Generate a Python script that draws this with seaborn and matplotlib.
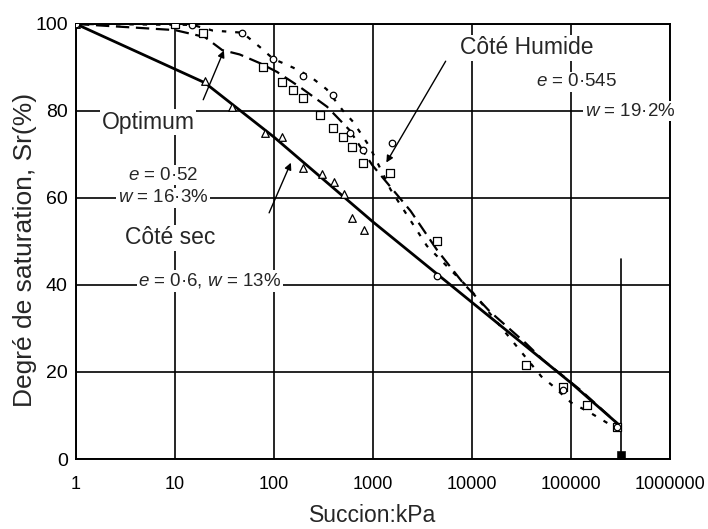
import numpy as np
import pandas as pd
import matplotlib
matplotlib.use("Agg")
import matplotlib.pyplot as plt
import seaborn as sns
from matplotlib.ticker import FixedLocator, FixedFormatter, LogLocator, MultipleLocator, NullFormatter

# ---------------- data ----------------
# Côté sec (solid line, triangles)
sec_line_x = [1, 20, 100, 1000, 10000, 100000, 300000]
sec_line_y = [100, 86.5, 74, 54.5, 36, 17.5, 8]
sec_pts_x = [1, 20, 38, 81, 120, 196, 305, 405, 510, 610, 810]
sec_pts_y = [100, 87, 81, 75, 74, 67, 65.5, 63.7, 61, 55.4, 52.6]

# Optimum (dashed line, squares)
opt_line_x = [1, 10, 20, 30, 45, 72, 107, 183, 343, 580, 980, 2400, 4450, 8100, 15000, 35000, 52000, 124000, 290000]
opt_line_y = [100, 98.6, 97, 94, 93, 91, 89, 85.5, 81, 75.6, 67.6, 57, 48, 40.5, 34, 26.6, 22.8, 15.9, 8.3]
opt_pts_x = [10, 19, 77, 120, 155, 195, 290, 395, 500, 610, 800, 1480, 4450, 35000, 83000, 145000, 290000]
opt_pts_y = [100, 98, 90, 86.7, 84.8, 83, 79, 76, 74, 71.7, 68, 65.7, 50, 21.6, 16.6, 12.4, 7.4]

# Côté humide (dotted line, circles)
hum_line_x = [1, 15, 24, 48, 72, 98, 155, 230, 340, 500, 630, 930, 1500, 3500, 10000, 50000, 64000, 100000, 160000, 270000]
hum_line_y = [100, 99.8, 98.5, 98, 94.7, 92, 90, 88, 85, 80, 77.5, 71.7, 62, 49, 38.5, 19, 17, 13, 10.5, 7.4]
hum_pts_x = [1, 15, 48, 98, 195, 395, 580, 800, 1570, 4400, 83000, 290000]
hum_pts_y = [100, 99.8, 98, 92, 88, 83.7, 75, 71, 72.6, 42, 15.8, 7.4]

# residual point at the end of the tests
end_x = [320000]
end_y = [1]
end_bar_y = [0, 46]

x_ticks = [1, 10, 100, 1000, 10000, 100000, 1000000]
x_tick_labels = ["1", "10", "100", "1000", "10000", "100000", "1000000"]
y_ticks = [0, 20, 40, 60, 80, 100]

# ---------------- style ----------------
sns.set_style("white")
plt.rcParams["font.family"] = ["Liberation Sans", "DejaVu Sans"]
plt.rcParams["mathtext.fontset"] = "custom"
plt.rcParams["mathtext.it"] = "Liberation Sans:italic"
plt.rcParams["mathtext.rm"] = "Liberation Sans"

fig = plt.figure(figsize=(7.08, 5.29), dpi=100)
ax = fig.add_axes([76 / 708, 1 - 459 / 529, 594 / 708, 435 / 529])

lines = pd.concat([
    pd.DataFrame({"x": sec_line_x, "y": sec_line_y, "s": "sec"}),
    pd.DataFrame({"x": opt_line_x, "y": opt_line_y, "s": "opt"}),
    pd.DataFrame({"x": hum_line_x, "y": hum_line_y, "s": "hum"}),
])
sns.lineplot(data=lines[lines.s == "sec"], x="x", y="y", color="black", lw=2.0, ax=ax,
             estimator=None, sort=False, zorder=3)
sns.lineplot(data=lines[lines.s == "opt"], x="x", y="y", color="black", lw=1.6, ax=ax,
             estimator=None, sort=False, zorder=3).lines[-1].set_dashes([6, 3])
sns.lineplot(data=lines[lines.s == "hum"], x="x", y="y", color="black", lw=1.6, ax=ax,
             estimator=None, sort=False, zorder=3).lines[-1].set_dashes([2, 4])

sns.scatterplot(x=sec_pts_x, y=sec_pts_y, marker="^", s=30, color="white",
                edgecolor="black", linewidth=0.9, ax=ax, zorder=4)
sns.scatterplot(x=opt_pts_x, y=opt_pts_y, marker="s", s=30, color="white",
                edgecolor="black", linewidth=0.9, ax=ax, zorder=4)
sns.scatterplot(x=hum_pts_x, y=hum_pts_y, marker="o", s=22, color="white",
                edgecolor="black", linewidth=0.9, ax=ax, zorder=4)
ax.plot([end_x[0], end_x[0]], end_bar_y, color="black", lw=1.2, zorder=2)
sns.scatterplot(x=end_x, y=end_y, marker="s", s=30, color="black",
                edgecolor="black", ax=ax, zorder=4)

ax.set_xscale("log")
ax.set_xlim(1, 1e6)
ax.set_ylim(0, 100)
ax.xaxis.set_major_locator(FixedLocator(x_ticks))
ax.xaxis.set_major_formatter(FixedFormatter(x_tick_labels))
ax.xaxis.set_minor_locator(LogLocator(base=10, subs=np.arange(2, 10)))
ax.xaxis.set_minor_formatter(NullFormatter())
ax.yaxis.set_major_locator(FixedLocator(y_ticks))
ax.yaxis.set_minor_locator(MultipleLocator(4))

ax.grid(True, which="major", color="black", lw=1.2, zorder=1)
ax.set_axisbelow(True)
for sp in ax.spines.values():
    sp.set_color("black")
    sp.set_linewidth(1.4)
ax.tick_params(which="major", direction="out", length=4, width=1.2, colors="black")
ax.tick_params(axis="x", which="major", labelsize=13, pad=8)
ax.tick_params(axis="y", which="major", labelsize=14, pad=2)
ax.tick_params(which="minor", direction="in", length=5, width=1.0, colors="black")

ax.set_xlabel("Succion:kPa", fontsize=16.5)
ax.xaxis.set_label_coords(0.5, (459 - 516) / 435)
ax.xaxis.label.set_va("center")
ax.set_ylabel("Degré de saturation, Sr(%)", fontsize=19)
ax.yaxis.set_label_coords((25 - 76) / 594, (459 - 250) / 435)
ax.yaxis.label.set_va("center")

box = dict(facecolor="white", edgecolor="none", pad=1.0)
def label(px, py, txt, fs):
    ax.text((px - 76) / 594, (459 - py) / 435, txt, transform=ax.transAxes,
            ha="center", va="center", fontsize=fs, bbox=box, zorder=5)

label(148, 122, "Optimum", 16.5)
label(163, 175, "$e$ = 0·52", 13.5)
label(163, 198, "$w$ = 16·3%", 13.5)
label(170, 238, "Côté sec", 16.5)
label(210, 281, "$e$ = 0·6, $w$ = 13%", 13.5)
label(527, 48, "Côté Humide", 16.5)
label(577, 82, "$e$ = 0·545", 13.5)
label(630, 111, "$w$ = 19·2%", 13.5)

arrow = dict(arrowstyle="-|>", color="black", lw=1.0, mutation_scale=10)
ax.annotate("", xy=(32, 94.5), xytext=(18.8, 82), arrowprops=arrow, zorder=6)
ax.annotate("", xy=(152, 68.7), xytext=(87, 56), arrowprops=arrow, zorder=6)
ax.annotate("", xy=(1320, 67.6), xytext=(5600, 92), arrowprops=arrow, zorder=6)

fig.savefig("out.png", dpi=100, facecolor="white")
